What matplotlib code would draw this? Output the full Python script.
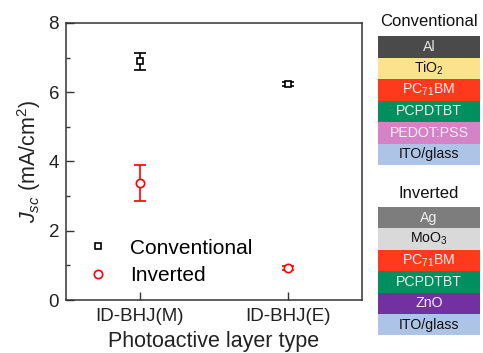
import matplotlib
matplotlib.use("Agg")
import matplotlib.pyplot as plt
from matplotlib.patches import Rectangle

plt.rcParams['font.family'] = ['Liberation Sans', 'DejaVu Sans']
plt.rcParams['mathtext.fontset'] = 'custom'
plt.rcParams['mathtext.rm'] = 'Liberation Sans'
plt.rcParams['mathtext.it'] = 'Liberation Sans:italic'

categories = ['ID-BHJ(M)', 'ID-BHJ(E)']
conv_vals = [6.89, 6.23]
conv_err = [0.24, 0.06]
inv_vals = [3.37, 0.92]
inv_err = [0.52, 0.05]

conv_layers = ['Al', 'TiO$_2$', 'PC$_{71}$BM', 'PCPDTBT', 'PEDOT:PSS', 'ITO/glass']
conv_colors = ['#4a4a4a', '#fde28e', '#ff3a1c', '#008f5f', '#d583c7', '#adc4e7']
conv_text = ['#e6e6e6', '#111111', '#f2f2f2', '#e8f2ee', '#f8f0f6', '#111111']

inv_layers = ['Ag', 'MoO$_3$', 'PC$_{71}$BM', 'PCPDTBT', 'ZnO', 'ITO/glass']
inv_colors = ['#7d7d7d', '#d9d9d9', '#ff3a1c', '#008f5f', '#7330a0', '#adc4e7']
inv_text = ['#f0f0f0', '#111111', '#f2f2f2', '#e8f2ee', '#f5eefa', '#111111']

fig = plt.figure(figsize=(4.83, 3.53), dpi=100)
ax = fig.add_axes([0.1366, 0.150, 0.613, 0.785])

x = list(range(len(categories)))
ax.errorbar(x, conv_vals, yerr=conv_err, fmt='s', color='black', mfc='white',
            mec='black', ms=5, mew=1.2, capsize=4.5, elinewidth=1.2, capthick=1.2,
            label='Conventional')
ax.errorbar(x, inv_vals, yerr=inv_err, fmt='o', color='red', mfc='white',
            mec='red', ms=6, mew=1.2, capsize=4.5, elinewidth=1.2, capthick=1.2,
            label='Inverted')

ax.set_xlim(-0.5, 1.5)
ax.set_ylim(0, 8)
ax.set_xticks(x)
ax.set_xticklabels(categories, fontsize=13.5, color='#222222')
ax.set_yticks([0, 2, 4, 6, 8])
ax.set_yticks([1, 3, 5, 7], minor=True)
ax.tick_params(axis='y', which='major', direction='in', length=6, width=1, labelsize=13.5,
               colors='#333333', labelcolor='#222222', pad=5)
ax.tick_params(axis='y', which='minor', direction='in', length=3, width=1, colors='#333333')
ax.tick_params(axis='x', which='major', direction='in', length=6, width=1, colors='#333333',
               labelcolor='#222222', pad=6)
for s in ax.spines.values():
    s.set_color('#333333')
    s.set_linewidth(1.1)

ax.set_xlabel('Photoactive layer type', fontsize=15.5, color='#222222', labelpad=4)
ax.set_ylabel(r'$\mathit{J}_{\mathit{sc}}$ (mA/cm$^2$)', fontsize=15.5, color='#222222', labelpad=4)

handles, labels = ax.get_legend_handles_labels()
handles = [h[0] for h in handles]
ax.legend(handles, labels, loc='lower left', bbox_to_anchor=(0.01, -0.013), frameon=False,
          fontsize=15, handletextpad=1.05, labelspacing=0.4, handlelength=1.0)

def stack(title, layers, colors, tcolors, top_px, title_px):
    W, H = 483.0, 353.0
    x0, x1 = 378.0, 480.0
    h = 21.4
    fig.text((x0 + x1) / 2 / W, 1 - title_px / H, title, ha='center', va='center',
             fontsize=12, color='#111111')
    for i, (lab, c, tc) in enumerate(zip(layers, colors, tcolors)):
        yt = top_px + i * h
        fig.patches.append(Rectangle((x0 / W, 1 - (yt + h) / H), (x1 - x0) / W, h / H,
                                     transform=fig.transFigure, facecolor=c,
                                     edgecolor='none'))
        fig.text((x0 + x1) / 2 / W, 1 - (yt + h / 2) / H, lab, ha='center', va='center',
                 fontsize=10.2, color=tc)

stack('Conventional', conv_layers, conv_colors, conv_text, 36.5, 22)
stack('Inverted', inv_layers, inv_colors, inv_text, 207, 193)

fig.savefig('out.png', dpi=100)
